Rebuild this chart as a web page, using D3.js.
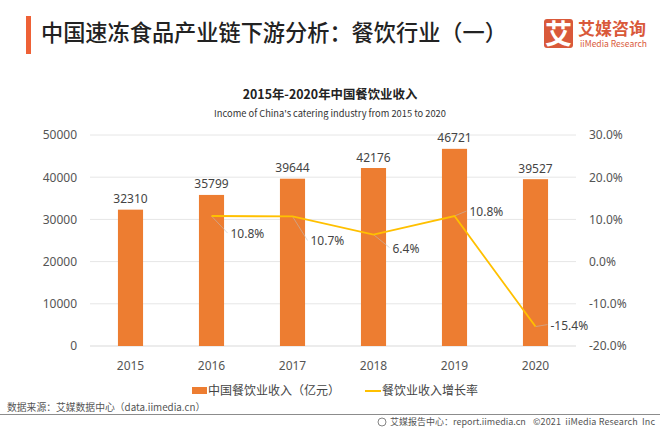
<!DOCTYPE html>
<html><head><meta charset="utf-8">
<script src="https://cdn.jsdelivr.net/npm/d3@7"></script>
<style>
html,body{margin:0;padding:0;background:#fff}
svg{display:block}
text{font-family:"Noto Sans CJK SC","Noto Sans",sans-serif}
</style></head><body>
<svg id="c" width="660" height="429"></svg>
<script>
const years=["2015","2016","2017","2018","2019","2020"];
const income=[32310,35799,39644,42176,46721,39527];
const growthYears=["2016","2017","2018","2019","2020"];
const growth=[10.8,10.7,6.4,10.8,-15.4];
const leftTicks=[0,10000,20000,30000,40000,50000];
const rightTicks=[-20,-10,0,10,20,30];

const svg=d3.select("#c");
const x=d3.scaleBand().domain(years).range([90,576]).paddingInner(0.69).paddingOuter(0.345);
const yL=d3.scaleLinear().domain([0,50000]).range([346,135]);
const yR=d3.scaleLinear().domain([-20,30]).range([346,135]);
const cx=d=>x(d)+x.bandwidth()/2;
const grey="#555";

// Header
svg.append("rect").attr("x",26).attr("y",16).attr("width",5).attr("height",38).attr("fill","#ee6136");
svg.append("text").attr("x",41).attr("y",41).attr("font-size",22.2).attr("fill","#222").attr("font-weight",500).text("中国速冻食品产业链下游分析：餐饮行业（一）");

// Logo
svg.append("rect").attr("x",544).attr("y",19).attr("width",29).attr("height",29).attr("rx",3).attr("fill","#d9593a");
svg.append("text").attr("x",558.5).attr("y",43.5).attr("text-anchor","middle").attr("font-size",27).attr("font-weight",700).attr("fill","#fff").text("艾");
svg.append("text").attr("x",578).attr("y",35).attr("font-size",17).attr("font-weight",700).attr("fill","#d9593a").text("艾媒咨询");
svg.append("text").attr("x",580).attr("y",47).attr("font-size",8.5).attr("fill","#d9593a").attr("textLength",67).attr("lengthAdjust","spacingAndGlyphs").text("iiMedia Research");

// Chart title
svg.append("text").attr("x",330).attr("y",99).attr("text-anchor","middle").attr("font-size",12.4).attr("font-weight",700).attr("fill","#222").text("2015年-2020年中国餐饮业收入");
svg.append("text").attr("x",330).attr("y",117).attr("text-anchor","middle").attr("font-size",9.3).attr("fill","#333").text("Income of China's catering industry from 2015 to 2020");

// Grid
svg.append("g").selectAll("line").data(leftTicks).join("line")
  .attr("x1",90).attr("x2",576).attr("y1",d=>yL(d)).attr("y2",d=>yL(d))
  .attr("stroke",d=>d===0?"#d9d9d9":"#e6e6e6").attr("stroke-width",1);

// Axes
const axL=d3.axisLeft(yL).tickValues(leftTicks).tickSize(0).tickPadding(0).tickFormat(d3.format("d"));
const axR=d3.axisRight(yR).tickValues(rightTicks).tickSize(0).tickPadding(0).tickFormat(d=>d.toFixed(1)+"%");
const axB=d3.axisBottom(x).tickSize(0).tickPadding(0);
const gL=svg.append("g").attr("transform","translate(77,0)").call(axL);
const gR=svg.append("g").attr("transform","translate(589,0)").call(axR);
const gB=svg.append("g").attr("transform","translate(0,360)").call(axB);
[gL,gR,gB].forEach(g=>{g.select(".domain").remove();
  g.selectAll("text").attr("font-size",12).attr("fill",grey).style("font-family",'"Noto Sans","Noto Sans CJK SC",sans-serif');});
gB.selectAll("text").attr("dy",".71em").attr("y",1);

// Bars
svg.append("g").selectAll("rect").data(years).join("rect")
  .attr("x",d=>x(d)).attr("width",x.bandwidth())
  .attr("y",(d,i)=>yL(income[i])).attr("height",(d,i)=>346-yL(income[i]))
  .attr("fill","#ed7d31");
svg.append("g").selectAll("text").data(years).join("text")
  .attr("x",cx).attr("y",(d,i)=>yL(income[i])-6.5).attr("text-anchor","middle")
  .attr("font-size",12).attr("fill","#444").style("font-family",'"Noto Sans",sans-serif')
  .text((d,i)=>income[i]);

// Leader lines
const lab=[[17,18],[16,25],[17,14],[13,-4],[13,-1]];
svg.append("g").selectAll("line").data(growthYears).join("line")
  .attr("x1",cx).attr("y1",(d,i)=>yR(growth[i]))
  .attr("x2",(d,i)=>cx(d)+lab[i][0]-1).attr("y2",(d,i)=>yR(growth[i])+lab[i][1]-1)
  .attr("stroke","#bfbfbf").attr("stroke-width",.7).attr("opacity",.8);

// Growth line
svg.append("path").datum(growthYears)
  .attr("d",d3.line().x(cx).y((d,i)=>yR(growth[i])))
  .attr("fill","none").attr("stroke","#ffc000").attr("stroke-width",1.8);

svg.append("g").selectAll("text").data(growthYears).join("text")
  .attr("x",(d,i)=>cx(d)+lab[i][0]+2).attr("y",(d,i)=>yR(growth[i])+lab[i][1]+4)
  .attr("font-size",12).attr("fill","#444").style("font-family",'"Noto Sans",sans-serif')
  .text((d,i)=>growth[i].toFixed(1)+"%");

// Legend
svg.append("rect").attr("x",192).attr("y",387).attr("width",15).attr("height",7).attr("fill","#ed7d31");
svg.append("text").attr("x",208).attr("y",395).attr("font-size",12).attr("fill","#444").text("中国餐饮业收入（亿元）");
svg.append("line").attr("x1",365).attr("x2",381).attr("y1",391).attr("y2",391).attr("stroke","#ffc000").attr("stroke-width",2);
svg.append("text").attr("x",382).attr("y",395).attr("font-size",12).attr("fill","#444").text("餐饮业收入增长率");

// Footer
svg.append("text").attr("x",7).attr("y",411).attr("font-size",9.8).attr("fill","#555").text("数据来源：艾媒数据中心（data.iimedia.cn）");
svg.append("line").attr("x1",0).attr("x2",660).attr("y1",414.5).attr("y2",414.5).attr("stroke","#8c8c8c").attr("stroke-width",1);
svg.append("circle").attr("cx",382).attr("cy",422).attr("r",4).attr("fill","none").attr("stroke","#666").attr("stroke-width",.8);
svg.append("text").attr("x",390).attr("y",425).attr("font-size",9).attr("fill","#555").text("艾媒报告中心：report.iimedia.cn");
svg.append("text").attr("x",533).attr("y",425).attr("font-size",9).attr("fill","#555").attr("textLength",122).attr("xml:space","preserve").text("©2021  iiMedia Research  Inc");
</script>
</body></html>
